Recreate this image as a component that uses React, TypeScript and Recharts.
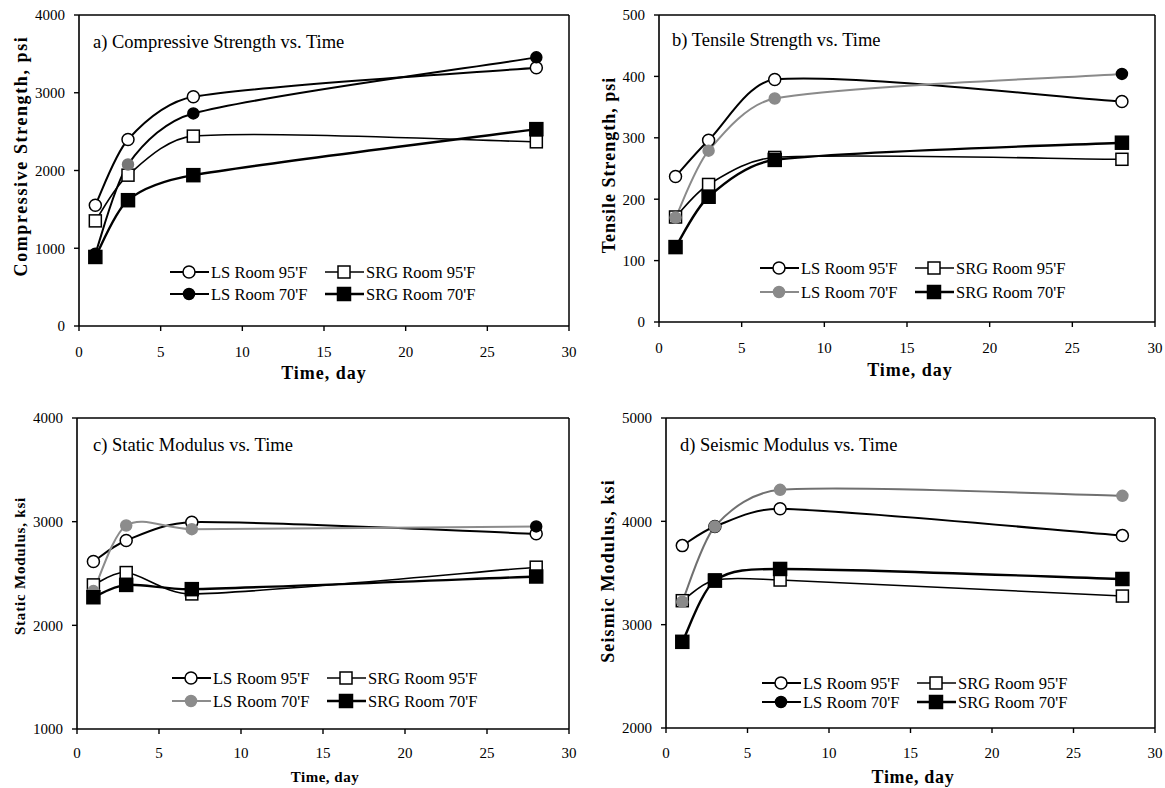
import React from 'react';
import { LineChart, Line, XAxis, YAxis, ReferenceLine, Legend } from 'recharts';

const FONT = '"Liberation Serif", "Times New Roman", serif';

// ---------- data ----------
const days = [1, 3, 7, 28];
const xTicks = [0, 5, 10, 15, 20, 25, 30];
const seriesNames = ["LS Room 95'F", "SRG Room 95'F", "LS Room 70'F", "SRG Room 70'F"];

// a) Compressive strength, psi
const compLS95 = [1554, 2399, 2948, 3322];
const compSRG95 = [1352, 1940, 2442, 2369];
const compLS70 = [930, 2077, 2734, 3455];
const compSRG70 = [888, 1618, 1940, 2532];
const compTicks = [0, 1000, 2000, 3000, 4000];

// b) Tensile strength, psi
const tensLS95 = [237, 296, 395, 359];
const tensSRG95 = [171, 224, 268, 265];
const tensLS70 = [170, 279, 364, 404];
const tensSRG70 = [122, 204, 264, 292];
const tensTicks = [0, 100, 200, 300, 400, 500];

// c) Static modulus, ksi
const statLS95 = [2616, 2818, 2995, 2883];
const statSRG95 = [2390, 2509, 2303, 2561];
const statLS70 = [2330, 2963, 2928, 2954];
const statSRG70 = [2271, 2390, 2349, 2471];
const statTicks = [1000, 2000, 3000, 4000];

// d) Seismic modulus, ksi
const seisLS95 = [3765, 3950, 4121, 3862];
const seisSRG95 = [3232, 3432, 3432, 3277];
const seisLS70 = [3222, 3950, 4305, 4247];
const seisSRG70 = [2834, 3426, 3539, 3442];
const seisTicks = [2000, 3000, 4000, 5000];

type Row = { day: number; ls95: number; srg95: number; ls70: number; srg70: number };
const buildRows = (a: number[], b: number[], c: number[], d: number[]): Row[] =>
  days.map((day, i) => ({ day, ls95: a[i], srg95: b[i], ls70: c[i], srg70: d[i] }));

// ---------- Excel-like smoothing curve ----------
const excelCurve = (context: any) => {
  let pts: number[][] = [];
  return {
    areaStart() {},
    areaEnd() {},
    lineStart() {
      pts = [];
    },
    point(x: number, y: number) {
      pts.push([+x, +y]);
    },
    lineEnd() {
      const n = pts.length;
      if (n === 0) return;
      context.moveTo(pts[0][0], pts[0][1]);
      const ctrl = (i: number, segLenX: number, dir: number) => {
        const a = pts[Math.max(0, i - 1)];
        const b = pts[Math.min(n - 1, i + 1)];
        let vx = (b[0] - a[0]) / 6;
        let vy = (b[1] - a[1]) / 6;
        const lim = segLenX * 0.4;
        if (Math.abs(vx) > lim && vx !== 0) {
          const k = lim / Math.abs(vx);
          vx *= k;
          vy *= k;
        }
        return [pts[i][0] + dir * vx, pts[i][1] + dir * vy];
      };
      for (let i = 0; i < n - 1; i++) {
        const p2 = pts[i + 1];
        const seg = p2[0] - pts[i][0];
        const c1 = ctrl(i, seg, 1);
        const c2 = ctrl(i + 1, seg, -1);
        context.bezierCurveTo(c1[0], c1[1], c2[0], c2[1], p2[0], p2[1]);
      }
    },
  };
};

// ---------- series styles ----------
type SStyle = {
  key: keyof Row;
  name: string;
  shape: 'circle' | 'square';
  fill: string;
  stroke: string;
  line: string;
  width: number;
  size: number;
  legend: string;
  pointColors?: string[];
};

const makeStyles = (ls70Line: string, ls70Marker: string, ls70Legend: string, ls70Points?: string[]): SStyle[] => [
  { key: 'ls95', name: seriesNames[0], shape: 'circle', fill: '#fff', stroke: '#000', line: '#000', width: 2, size: 6, legend: '#000' },
  { key: 'srg95', name: seriesNames[1], shape: 'square', fill: '#fff', stroke: '#000', line: '#000', width: 1.6, size: 6, legend: '#000' },
  { key: 'ls70', name: seriesNames[2], shape: 'circle', fill: ls70Marker, stroke: ls70Marker, line: ls70Line, width: 2, size: 5.5, legend: ls70Legend, pointColors: ls70Points },
  { key: 'srg70', name: seriesNames[3], shape: 'square', fill: '#000', stroke: '#000', line: '#000', width: 2.4, size: 6.5, legend: '#000' },
];

const Marker = ({ s, cx, cy, color }: { s: SStyle; cx: number; cy: number; color?: string }) => {
  const fill = s.fill === '#fff' ? '#fff' : color || s.fill;
  const stroke = color || s.stroke;
  if (s.shape === 'circle') {
    return <circle cx={cx} cy={cy} r={s.size} fill={fill} stroke={stroke} strokeWidth={1.5} />;
  }
  return (
    <rect x={cx - s.size} y={cy - s.size} width={s.size * 2} height={s.size * 2} fill={fill} stroke={stroke} strokeWidth={1.5} />
  );
};

const makeDot = (s: SStyle) => (props: any) => {
  const { cx, cy, index } = props;
  if (cx == null || cy == null) return <g key={`d-${s.key}-${index}`} />;
  const color = s.pointColors ? s.pointColors[index] : undefined;
  return (
    <g key={`d-${s.key}-${index}`}>
      <Marker s={s} cx={cx} cy={cy} color={color} />
    </g>
  );
};

// ---------- legend ----------
const LegendBox = ({ styles, gap }: { styles: SStyle[]; gap: number }) => {
  const ox = 5;
  const oy = 12;
  const cols = [
    [styles[0], styles[2]],
    [styles[1], styles[3]],
  ];
  const colX = [0, 155];
  return (
    <svg width={340} height={60} style={{ display: 'block', overflow: 'visible' }}>
      {cols.map((col, ci) =>
        col.map((s, ri) => {
          const x0 = ox + colX[ci];
          const y = oy + ri * gap;
          return (
            <g key={s.key}>
              <line x1={x0} x2={x0 + 39} y1={y} y2={y} stroke={s.legend} strokeWidth={s.width} />
              <Marker s={s} cx={x0 + 19} cy={y} color={s.legend} />
              <text x={x0 + 41} y={y} dy="0.35em" fontFamily={FONT} fontSize={16.5} fill="#000">
                {s.name}
              </text>
            </g>
          );
        })
      )}
    </svg>
  );
};

type AxisTitle = { text: string; x: number; y: number; size: number; spacing: number };

type PanelProps = {
  left: number;
  top: number;
  width: number;
  height: number;
  margin: { top: number; right: number; bottom: number; left: number };
  yDomain: [number, number];
  yTicks: number[];
  rows: Row[];
  title: string;
  titleX: number;
  titleY: number;
  yLabel: AxisTitle;
  xLabel: AxisTitle;
  xTickMargin: number;
  styles: SStyle[];
  legend: { x0: number; y0: number; gap: number };
};

const tickStyle = { fill: '#000', fontSize: 15, fontFamily: FONT };

const Panel = (p: PanelProps) => (
  <div style={{ position: 'absolute', left: p.left, top: p.top, width: p.width, height: p.height }}>
    <LineChart width={p.width} height={p.height} data={p.rows} margin={p.margin}>
      <XAxis
        dataKey="day"
        type="number"
        domain={[0, 30]}
        ticks={xTicks}
        height={40}
        tickSize={5}
        tickMargin={p.xTickMargin}
        tick={tickStyle}
        axisLine={{ stroke: '#000', strokeWidth: 1.6 }}
        tickLine={{ stroke: '#000', strokeWidth: 1.4 }}
        label={{
          content: () => (
            <text
              x={p.xLabel.x}
              y={p.xLabel.y}
              dy="0.35em"
              textAnchor="middle"
              fontFamily={FONT}
              fontWeight="bold"
              fontSize={p.xLabel.size}
              letterSpacing={p.xLabel.spacing}
              fill="#000"
            >
              {p.xLabel.text}
            </text>
          ),
        }}
      />
      <YAxis
        type="number"
        domain={p.yDomain}
        ticks={p.yTicks}
        width={60}
        tickSize={5}
        tickMargin={9}
        tick={tickStyle}
        axisLine={{ stroke: '#000', strokeWidth: 1.6 }}
        tickLine={{ stroke: '#000', strokeWidth: 1.4 }}
        label={{
          content: () => (
            <text
              x={p.yLabel.x}
              y={p.yLabel.y}
              dy="0.35em"
              textAnchor="middle"
              transform={`rotate(-90 ${p.yLabel.x} ${p.yLabel.y})`}
              fontFamily={FONT}
              fontWeight="bold"
              fontSize={p.yLabel.size}
              letterSpacing={p.yLabel.spacing}
              fill="#000"
            >
              {p.yLabel.text}
            </text>
          ),
        }}
      />
      <ReferenceLine
        y={p.yDomain[1]}
        stroke="#000"
        strokeWidth={1.5}
        label={{
          content: () => (
            <text x={p.titleX} y={p.titleY} dy="0.35em" fontFamily={FONT} fontSize={18.5} fill="#000">
              {p.title}
            </text>
          ),
        }}
      />
      <ReferenceLine x={30} stroke="#000" strokeWidth={1.5} />
      <Legend
        layout="horizontal"
        verticalAlign="middle"
        align="center"
        wrapperStyle={{ left: p.legend.x0 - 5, top: p.legend.y0 - 12, width: 340, height: 60 }}
        content={() => <LegendBox styles={p.styles} gap={p.legend.gap} />}
      />
      {p.styles.map((s) => (
        <Line
          key={s.key}
          dataKey={s.key}
          name={s.name}
          type={excelCurve as any}
          stroke={s.line}
          strokeWidth={s.width}
          dot={makeDot(s)}
          activeDot={false}
          isAnimationActive={false}
        />
      ))}
    </LineChart>
  </div>
);

export default function App() {
  return (
    <div style={{ position: 'absolute', left: 0, top: 0, width: 1165, height: 788, background: '#fff' }}>
      <Panel
        left={0}
        top={0}
        width={590}
        height={390}
        margin={{ top: 15, right: 21, bottom: 24, left: 19 }}
        yDomain={[0, 4000]}
        yTicks={compTicks}
        rows={buildRows(compLS95, compSRG95, compLS70, compSRG70)}
        title="a) Compressive Strength vs. Time"
        titleX={93}
        titleY={42}
        yLabel={{ text: 'Compressive Strength, psi', x: 21, y: 156, size: 18, spacing: 1.6 }}
        xLabel={{ text: 'Time, day', x: 324, y: 373, size: 18, spacing: 1 }}
        xTickMargin={15}
        styles={makeStyles('#000', '#000', '#000', ['#000', '#777', '#000', '#000'])}
        legend={{ x0: 170, y0: 272, gap: 22 }}
      />
      <Panel
        left={590}
        top={0}
        width={575}
        height={390}
        margin={{ top: 15, right: 10, bottom: 28, left: 9 }}
        yDomain={[0, 500]}
        yTicks={tensTicks}
        rows={buildRows(tensLS95, tensSRG95, tensLS70, tensSRG70)}
        title="b) Tensile Strength vs. Time"
        titleX={82}
        titleY={40}
        yLabel={{ text: 'Tensile Strength, psi', x: 18.5, y: 165, size: 18, spacing: 1 }}
        xLabel={{ text: 'Time, day', x: 320, y: 370, size: 18, spacing: 1 }}
        xTickMargin={15}
        styles={makeStyles('#8a8a8a', '#8a8a8a', '#8a8a8a', ['#8a8a8a', '#8a8a8a', '#8a8a8a', '#000'])}
        legend={{ x0: 170, y0: 268, gap: 24 }}
      />
      <Panel
        left={0}
        top={390}
        width={590}
        height={398}
        margin={{ top: 28, right: 21, bottom: 19, left: 17 }}
        yDomain={[1000, 4000]}
        yTicks={statTicks}
        rows={buildRows(statLS95, statSRG95, statLS70, statSRG70)}
        title="c) Static Modulus vs. Time"
        titleX={93}
        titleY={55}
        yLabel={{ text: 'Static Modulus, ksi', x: 19.5, y: 176, size: 15, spacing: 0.8 }}
        xLabel={{ text: 'Time, day', x: 325, y: 387, size: 15, spacing: 0.5 }}
        xTickMargin={13}
        styles={makeStyles('#8c8c8c', '#8c8c8c', '#8c8c8c', ['#8c8c8c', '#8c8c8c', '#8c8c8c', '#000'])}
        legend={{ x0: 172, y0: 288, gap: 23 }}
      />
      <Panel
        left={590}
        top={390}
        width={575}
        height={398}
        margin={{ top: 28, right: 10, bottom: 20, left: 16 }}
        yDomain={[2000, 5000]}
        yTicks={seisTicks}
        rows={buildRows(seisLS95, seisSRG95, seisLS70, seisSRG70)}
        title="d) Seismic Modulus vs. Time"
        titleX={90}
        titleY={55}
        yLabel={{ text: 'Seismic Modulus, ksi', x: 17.5, y: 181, size: 18, spacing: 1.1 }}
        xLabel={{ text: 'Time, day', x: 323, y: 387, size: 18, spacing: 0.7 }}
        xTickMargin={14}
        styles={makeStyles('#707070', '#8a8a8a', '#000')}
        legend={{ x0: 172, y0: 293, gap: 19 }}
      />
    </div>
  );
}
